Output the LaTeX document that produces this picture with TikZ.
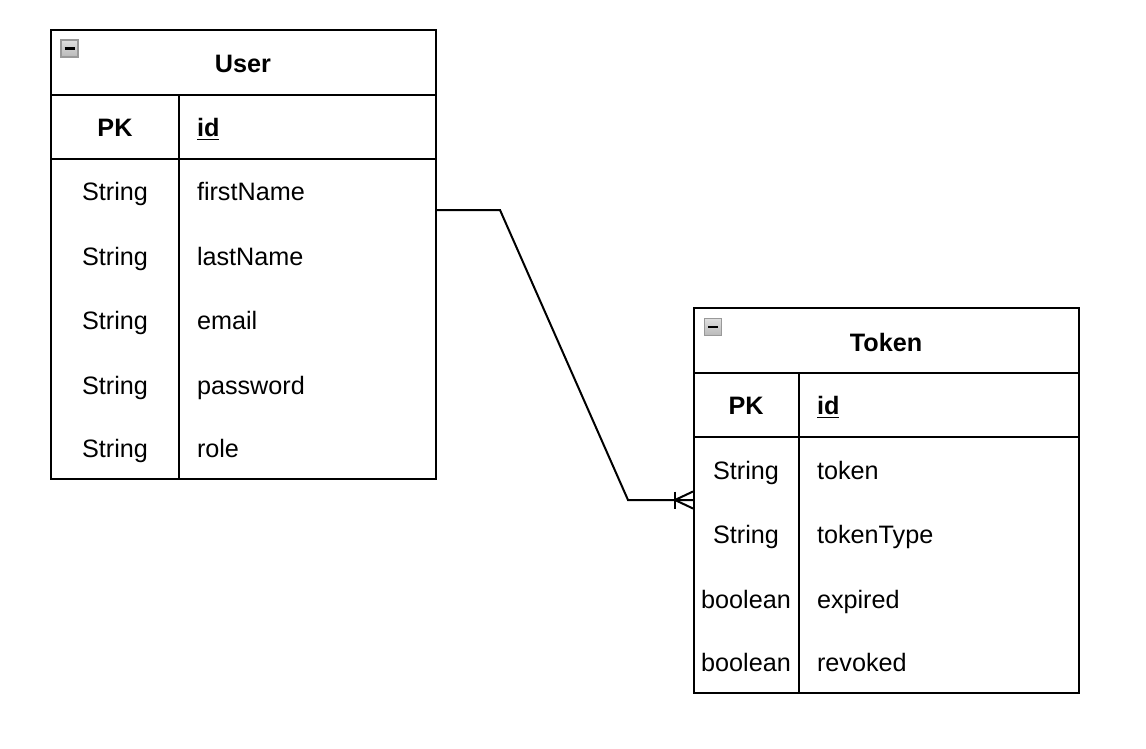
\documentclass[tikz,border=0pt]{standalone}
\usepackage{fontspec}
\setmainfont{Liberation Sans}
\usetikzlibrary{positioning}
\begin{document}
\begin{tikzpicture}[x=0.5pt, y=-0.5pt, line width=1pt, font=\fontsize{12.6}{15}\selectfont,
  box node/.style={draw, fill=white, rectangle, inner sep=0pt, minimum width=192.5pt},
  txt/.style={inner sep=0pt, text height=10pt, text depth=0.6pt},
  title node/.style={txt, font=\fontsize{12.6}{15}\selectfont\bfseries},
  type node/.style={txt, anchor=center},
  field node/.style={txt, anchor=west},
  icon node/.style={draw=gray!80, top color=gray!25, bottom color=gray!55, line width=0.8pt, minimum size=8.5pt, inner sep=0pt}]
\useasboundingbox (0,0) rectangle (1146,749);
% User table
\node[box node, minimum height=224.5pt] (user) at (243.5,254.5) {};
\draw (51,95) -- (436,95);
\draw (51,159) -- (436,159);
\draw (179,95) -- (179,479);
\node[icon node] (ui) at (69.5,48.5) {};
\draw[line width=1.2pt] (64.5,48.5) -- (74.5,48.5);
\node[title node] (ut) at (243,63) {User};
\node[title node] (upk) at (115,127) {PK};
\node[field node, font=\fontsize{12.6}{15}\selectfont\bfseries] (uid) at (196,127) {\underline{id}};
\node[type node] (u1) at (115,191) {String};
\node[type node] (u2) at (115,256) {String};
\node[type node] (u3) at (115,320) {String};
\node[type node] (u4) at (115,385) {String};
\node[type node] (u5) at (115,448) {String};
\node[field node] (f1) at (196,191) {firstName};
\node[field node] (f2) at (196,256) {lastName};
\node[field node] (f3) at (196,320) {email};
\node[field node] (f4) at (196,385) {password};
\node[field node] (f5) at (196,448) {role};
% Token table
\node[box node, minimum height=192.5pt] (token) at (886.5,500.5) {};
\draw (694,373) -- (1079,373);
\draw (694,437) -- (1079,437);
\draw (799,373) -- (799,693);
\node[icon node] (ti) at (713,327) {};
\draw[line width=1.2pt] (708,327) -- (718,327);
\node[title node] (tt) at (886,342) {Token};
\node[title node] (tpk) at (746,405) {PK};
\node[field node, font=\fontsize{12.6}{15}\selectfont\bfseries] (tid) at (816,405) {\underline{id}};
\node[type node] (t1) at (746,470) {String};
\node[type node] (t2) at (746,534) {String};
\node[type node] (t3) at (746,599) {boolean};
\node[type node] (t4) at (746,662) {boolean};
\node[field node] (g1) at (816,470) {token};
\node[field node] (g2) at (816,534) {tokenType};
\node[field node] (g3) at (816,599) {expired};
\node[field node] (g4) at (816,662) {revoked};
% relation
\coordinate (c1) at (500,210);
\coordinate (c2) at (628,500);
\draw (user.east |- c1) -- (c1) -- (c2) -- (token.west |- c2);
\draw (token.west |- c2) ++(-18,-8.5) -- ++(0,17);
\draw (token.west |- c2) ++(0,-8.5) -- ++(-18,8.5) -- ++(18,8.5);
\end{tikzpicture}
\end{document}
